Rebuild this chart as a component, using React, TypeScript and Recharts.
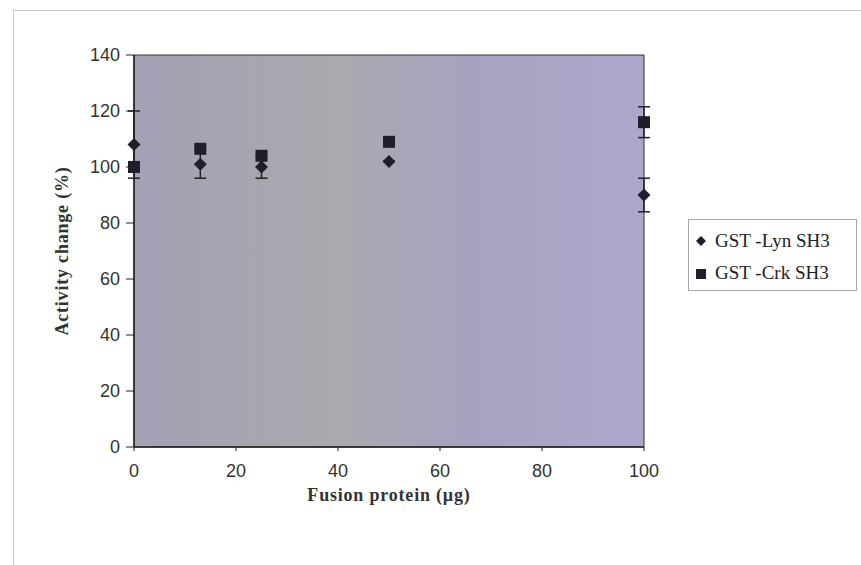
import { ScatterChart, Scatter, XAxis, YAxis, ErrorBar, ReferenceArea } from "recharts"

// fusion protein amount (µg)
const lynX = [0, 13, 25, 50, 100]
const lynY = [108, 101, 100, 102, 90]
// [below, above]
const lynErr = [[12, 12], [5, 5.5], [4, 4], [0, 0], [6, 6]]

const crkX = [0, 13, 25, 50, 100]
const crkY = [100, 106.5, 104, 109, 116]
const crkErr = [0, 0, 0, 0, 5.5]

const xTicks = [0, 20, 40, 60, 80, 100]
const yTicks = [0, 20, 40, 60, 80, 100, 120, 140]

const lynData = lynX.map((x, i) => ({ x, y: lynY[i], err: lynErr[i] }))
const crkData = crkX.map((x, i) => ({ x, y: crkY[i], err: crkErr[i] }))

const MARK = "#1f1f2a"

const Diamond = (props: any) => {
    const { cx, cy } = props
    const r = 6.5
    return <path d={`M${cx},${cy - r}L${cx + r},${cy}L${cx},${cy + r}L${cx - r},${cy}Z`} fill={MARK} />
}

const Square = (props: any) => {
    const { cx, cy } = props
    const s = 12
    return <rect x={cx - s / 2} y={cy - s / 2} width={s} height={s} fill={MARK} />
}

const serif = "'Liberation Serif', 'DejaVu Serif', serif"
const sans = "'Liberation Sans', Arial, sans-serif"

const LegendBox = () => (
    <div style={{ position: "absolute", left: 688, top: 219, width: 169, height: 72, border: "1px solid #aaa", background: "#fff", boxSizing: "border-box", fontFamily: serif, fontSize: 19, color: "#222" }}>
        <div style={{ display: "flex", alignItems: "center", height: 34, paddingTop: 4, paddingLeft: 5 }}>
            <svg width={14} height={14}><path d="M7,2L12,7L7,12L2,7Z" fill={MARK} /></svg>
            <span style={{ marginLeft: 7 }}>GST -Lyn SH3</span>
        </div>
        <div style={{ display: "flex", alignItems: "center", height: 30, paddingLeft: 5 }}>
            <svg width={14} height={14}><rect x={2} y={3} width={10} height={10} fill={MARK} /></svg>
            <span style={{ marginLeft: 7 }}>GST -Crk SH3</span>
        </div>
    </div>
)

export default function App() {
    return (
        <div style={{ position: "absolute", left: 0, top: 0, width: 861, height: 565, background: "#fff", overflow: "hidden" }}>
            <div style={{ position: "absolute", left: 13, top: 10, width: 860, height: 560, borderLeft: "1px solid #c8c8c8", borderTop: "1px solid #c8c8c8" }} />
            <ScatterChart width={861} height={565} margin={{ top: 55, right: 217, left: 74, bottom: 78 }}>
                <defs>
                    <linearGradient id="plotBg" x1="0" y1="0" x2="1" y2="0">
                        <stop offset="0%" stopColor="#a3a1b4" />
                        <stop offset="40%" stopColor="#aaa9ae" />
                        <stop offset="65%" stopColor="#a6a3c0" />
                        <stop offset="100%" stopColor="#aba8cc" />
                    </linearGradient>
                </defs>
                <XAxis type="number" dataKey="x" domain={[0, 100]} ticks={xTicks} height={40}
                    axisLine={{ stroke: "#222", strokeWidth: 1.5 }} tickLine={{ stroke: "#222" }} tickSize={4} tickMargin={13}
                    tick={{ fill: "#333", fontSize: 18, fontFamily: sans }}
                    label={{ value: "Fusion protein (µg)", position: "insideBottom", offset: -14, fill: "#333", fontSize: 18, fontWeight: "bold", fontFamily: serif, letterSpacing: 0.8 }} />
                <YAxis type="number" dataKey="y" domain={[0, 140]} ticks={yTicks} width={60}
                    axisLine={{ stroke: "#222", strokeWidth: 1.5 }} tickLine={{ stroke: "#222" }} tickSize={8} tickMargin={6}
                    tick={{ fill: "#333", fontSize: 18, fontFamily: sans }}
                    label={{ value: "Activity change (%)", angle: -90, position: "center", dx: -42, fill: "#333", fontSize: 18, fontWeight: "bold", fontFamily: serif, letterSpacing: 0.8 }} />
                <ReferenceArea x1={0} x2={100} y1={0} y2={140} fill="url(#plotBg)" fillOpacity={1} stroke="#333" strokeWidth={1} />
                <Scatter name="GST-Lyn SH3" data={lynData} shape={Diamond} isAnimationActive={false}>
                    <ErrorBar dataKey="err" direction="y" width={6} stroke="#222" strokeWidth={1.5} />
                </Scatter>
                <Scatter name="GST-Crk SH3" data={crkData} shape={Square} isAnimationActive={false}>
                    <ErrorBar dataKey="err" direction="y" width={6} stroke="#222" strokeWidth={1.5} />
                </Scatter>
            </ScatterChart>
            <LegendBox />
        </div>
    )
}
